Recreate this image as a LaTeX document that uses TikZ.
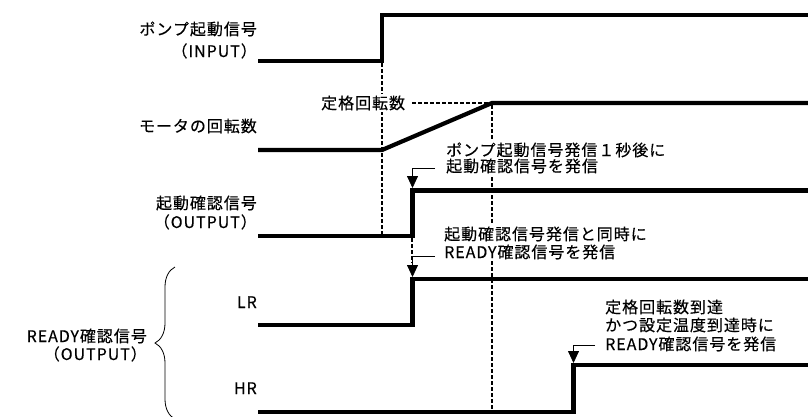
\documentclass[tikz,border=0pt]{standalone}
\usepackage{fontspec}
\setmainfont{Noto Sans CJK JP}[LetterSpace=6, FakeBold=0.3]
\usetikzlibrary{arrows.meta,decorations.pathreplacing}
\begin{document}
\begin{tikzpicture}[x=1pt,y=-1pt,
  sig/.style={line width=4.2pt},
  guide/.style={line width=1.2pt, dash pattern=on 4pt off 2pt},
  callout/.style={line width=0.8pt, -{Triangle[width=11pt,length=12pt]}},
  txt/.style={inner sep=0pt, font=\fontsize{16}{19}\selectfont},
  note/.style={txt, fill=white, inner xsep=1pt, inner ysep=1.5pt},
  bracestyle/.style={line width=0.8pt, decorate, decoration={brace, amplitude=20pt}}]
\useasboundingbox (0,0) rectangle (808,416);
% guide lines
\draw[guide] (382,63) -- (382,234);
\draw[guide] (492,105) -- (492,410);
\draw[guide] (412,238) -- (412,263);
\draw[guide] (412,103) -- (490,103);
% signals
\draw[sig] (258,61) -- (382,61) -- (382,15) -- (808,15);
\draw[sig] (258,150) -- (382,150) -- (492,103) -- (808,103);
\draw[sig] (258,236) -- (412.5,236) -- (412.5,190.5) -- (808,190.5);
\draw[sig] (258,325) -- (412.5,325) -- (412.5,279) -- (808,279);
\draw[sig] (258,412) -- (573.5,412) -- (573.5,365) -- (808,365);
% left labels
\node[txt, anchor=base east] (p1) at (257,35) {ポンプ起動信号};
\node[txt, anchor=base east] (p2) at (257,57) {（INPUT）};
\node[txt, anchor=base east] (m1) at (257,132) {モータの回転数};
\node[txt, anchor=base east] (o1) at (257,209) {起動確認信号};
\node[txt, anchor=base east] (o2) at (257,228) {（OUTPUT）};
\node[txt, anchor=base east] (lr) at (257,308) {LR};
\node[txt, anchor=base east] (hr) at (257,394) {HR};
\node[txt, anchor=base east] (r1) at (147,342) {READY確認信号};
\node[txt, anchor=base east] (r2) at (147,360) {（OUTPUT）};
\draw[bracestyle] (175,419) -- (175,267);
% notes
\node[note, anchor=base west] (rated) at (320,109) {定格回転数};
\node[note, anchor=base west] (a1) at (445,156) {ポンプ起動信号発信１秒後に};
\node[note, anchor=base west] (a2) at (445,172) {起動確認信号を発信};
\node[note, anchor=base west] (b1) at (443,240) {起動確認信号発信と同時に};
\node[note, anchor=base west] (b2) at (443,258) {READY確認信号を発信};
\node[note, anchor=base west] (c1) at (604,313) {定格回転数到達};
\node[note, anchor=base west] (c2) at (604,331) {かつ設定温度到達時に};
\node[note, anchor=base west] (c3) at (604,350) {READY確認信号を発信};
% callouts
\coordinate (ka) at (435,168);
\coordinate (kb) at (435,256);
\coordinate (kc) at (595,345);
\coordinate (ta) at (412.5,188);
\coordinate (tb) at (412.5,277);
\coordinate (tc) at (573.5,363);
\draw[callout] (ka) -| (ta);
\draw[callout] (kb) -| (tb);
\draw[callout] (kc) -| (tc);
\end{tikzpicture}
\end{document}
